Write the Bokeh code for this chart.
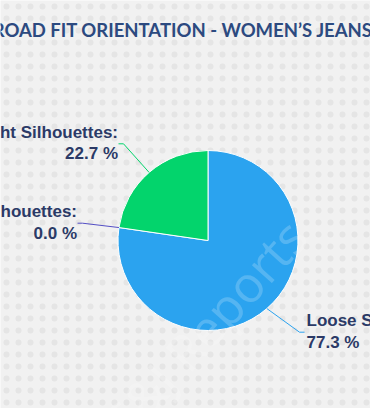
import numpy as np
from bokeh.plotting import figure
from bokeh.models import Range1d, BoxAnnotation
from bokeh.core.properties import value
from bokeh.embed import file_html
from bokeh.resources import INLINE

# ---- data ----
title_text = "BROAD FIT ORIENTATION - WOMEN\u2019S JEANS SEGMENT"
categories = ["Loose Silhouettes", "Mixed Silhouettes", "Straight Silhouettes"]
values = [77.3, 0.0, 22.7]
colors = ["#2ba3ef", "#544fc5", "#03d46c"]
watermark = "S&J Reports"

# ---- layout (reference pixel coordinates) ----
PAGE_W, PAGE_H = 370, 408
cx, cy_ref, R = 207.5, 240.0, 90.0
label_anchor_x = [304.0, 77.0, 118.0]
label_anchor_y = [331.7, 222.7, 143.3]
label_side = [1, -1, -1]

def fy(y):
    return PAGE_H - y

p = figure(width=PAGE_W, height=PAGE_H, x_range=Range1d(0, PAGE_W), y_range=Range1d(0, PAGE_H),
           output_backend="svg", toolbar_location=None, min_border=0,
           x_axis_location=None, y_axis_location=None)
p.grid.visible = False
p.outline_line_color = None
p.background_fill_color = "#f1f1f1"
p.border_fill_color = "#f1f1f1"

dots = BoxAnnotation(fill_alpha=0, line_alpha=0, hatch_pattern="dot", hatch_color="#e5e5e5",
                     hatch_scale=12, hatch_weight=1, level="underlay")
p.add_layout(dots)

# ---- pie ----
vals = np.array(values, dtype=float)
frac = vals / vals.sum()
cum = np.concatenate([[0.0], np.cumsum(frac)])
start_deg = 90 - 360 * cum[:-1]
end_deg = 90 - 360 * cum[1:]
mid_deg = (start_deg + end_deg) / 2
nz = vals > 0
p.wedge(x=cx, y=fy(cy_ref), radius=R,
        start_angle=np.deg2rad(start_deg[nz]), end_angle=np.deg2rad(end_deg[nz]),
        direction="clock", fill_color=[c for c, k in zip(colors, nz) if k],
        line_color="white", line_width=1)

# ---- watermark ----
p.text(x=[205], y=[fy(328)], text=[watermark], angle=np.deg2rad(48),
       text_align="center", text_baseline="middle", text_font=value("Open Sans"),
       text_font_size="50px", text_color="white", text_alpha=0.2)

# ---- connectors & labels ----
label_color = "#2b3a67"
for i, cat in enumerate(categories):
    a = np.deg2rad(mid_deg[i])
    ex = cx + R * np.cos(a)
    ey = fy(cy_ref) + R * np.sin(a)
    ax, ay = label_anchor_x[i], fy(label_anchor_y[i])
    s = label_side[i]
    p.line(x=[ex, ax - 5 * s, ax], y=[ey, ay, ay], line_color=colors[i], line_width=1)
    tx = ax + 2 if s > 0 else ax - 0.5
    align = "left" if s > 0 else "right"
    p.text(x=[tx, tx], y=[ay + 11.5, ay - 10],
           text=[cat + ":", f"{values[i]:.1f} %"],
           text_align=align, text_baseline="alphabetic",
           text_font=value("Liberation Sans"), text_font_style="bold",
           text_font_size="17px", text_color=label_color)

# ---- title ----
p.text(x=[-20], y=[fy(29)], text=[title_text], text_align="left", text_baseline="alphabetic",
       text_font=value("Lato"), text_font_style="bold", text_font_size="18.5px",
       text_color="#2c4a80")

open("out.html", "w").write(file_html(p, INLINE))
